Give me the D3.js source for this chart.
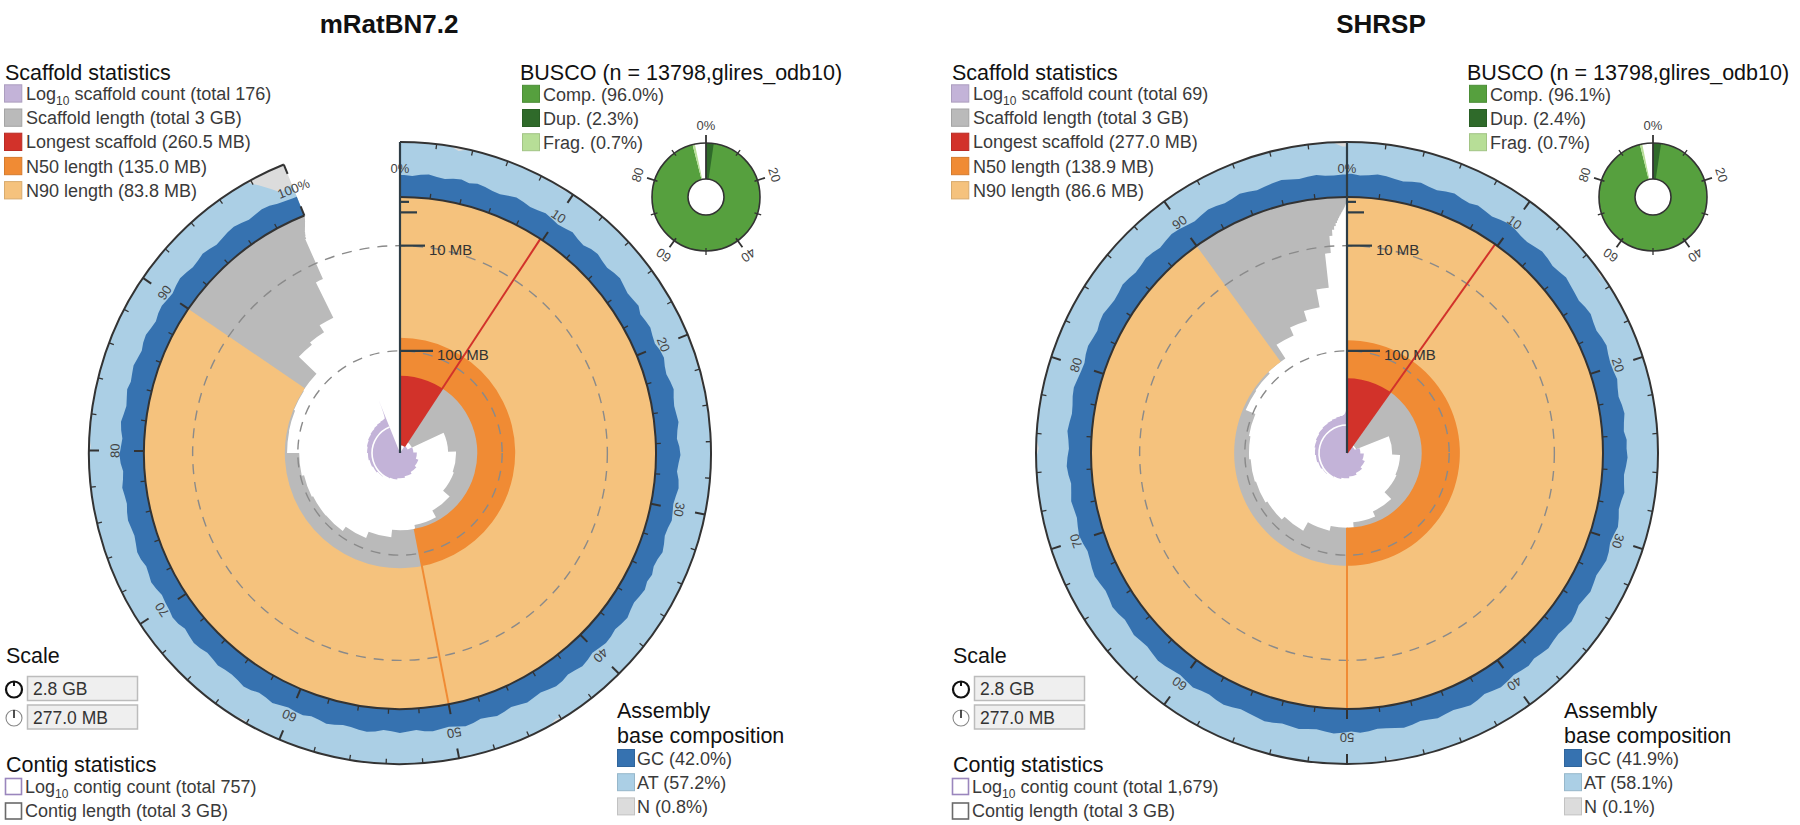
<!DOCTYPE html>
<html>
<head>
<meta charset="utf-8">
<script src="https://cdn.jsdelivr.net/npm/d3@7"></script>
<style>
  html,body{margin:0;padding:0;background:#fff;}
  svg{display:block;}
  text{font-family:"Liberation Sans", Arial, Helvetica, sans-serif;}
</style>
</head>
<body>
<svg id="chart" width="1800" height="825"></svg>
<script>
// ------------------------------------------------------------------ DATA
const assemblyNames = ["mRatBN7.2", "SHRSP"];

// scaffold lengths (MB), sorted longest first
const ratScaffoldLengths = [260.5, 249.1, 182.7, 169.0, 166.9, 152.5, 140.7, 135.0, 123.9, 114.2,
  107.2, 106.8, 104.9, 101.8, 86.5, 86.2, 84.7, 83.8, 57.3, 54.4, 46.7, 18.3];
const ratUnplacedLengths = [
  2.05,1.52,1.18,0.94,0.81,0.70,0.62,0.55,0.49,0.44,
  0.40,0.36,0.33,0.30,0.27,0.25,0.23,0.21,0.19,0.18,
  0.17,0.16,0.15,0.14,0.13,0.12,0.11,0.105,0.10,0.095,
  0.09,0.085,0.08,0.075,0.07,0.066,0.062,0.058,0.055,0.052,
  0.049,0.046,0.044,0.042,0.040,0.038,0.036,0.034,0.032,0.031,
  0.030,0.029,0.028,0.027,0.026,0.025,0.024,0.023,0.022,0.021,
  0.020,0.020,0.019,0.019,0.018,0.018,0.017,0.017,0.016,0.016,
  0.016,0.015,0.015,0.014,0.014,0.014,0.013,0.013,0.013,0.012,
  0.012,0.012,0.011,0.011,0.011,0.011,0.010,0.010,0.010,0.010,
  0.009,0.009,0.009,0.009,0.009,0.008,0.008,0.008,0.008,0.008,
  0.008,0.007,0.007,0.007,0.007,0.007,0.007,0.006,0.006,0.006,
  0.006,0.006,0.006,0.006,0.005,0.005,0.005,0.005,0.005,0.005,
  0.005,0.005,0.004,0.004,0.004,0.004,0.004,0.004,0.004,0.004,
  0.004,0.003,0.003,0.003,0.003,0.003,0.003,0.003,0.003,0.003,
  0.003,0.003,0.002,0.002,0.002,0.002,0.002,0.002,0.002,0.002,
  0.002,0.002,0.002,0.002];
const shrspScaffoldLengths = [277.0, 256.0, 188.0, 174.0, 172.0, 156.0, 147.0, 138.9, 131.5, 117.5,
  112.0, 109.0, 107.5, 105.5, 103.5, 90.0, 89.0, 86.6, 68.0, 59.0, 49.0, 34.0, 13.0];
const shrspUnplacedLengths = [6.2,4.4,3.5,2.8,2.3,1.9,1.6,1.4,1.2,1.05,0.95,0.85,0.75,0.68,0.62,0.56,
  0.5,0.46,0.42,0.38,0.34,0.31,0.28,0.26,0.24,0.22,0.2,0.18,0.17,0.16,0.15,0.14,0.13,0.12,0.11,0.1,
  0.09,0.085,0.08,0.075,0.07,0.065,0.06,0.055,0.05,0.045];

// GC % per 0.5% bin of each assembly
const ratGC = [
  40.1,38.6,41.9,43.5,40.8,39.2,42.7,44.1,41.0,43.8, 42.5,39.7,38.9,42.2,45.0,43.1,40.6,41.8,44.6,42.0,
  39.5,41.3,43.9,40.2,38.4,42.8,44.7,41.6,39.9,43.2, 45.3,42.4,40.0,41.7,44.2,39.1,41.5,43.6,40.7,38.8,
  42.9,44.8,41.2,39.6,43.0,45.4,42.1,40.3,41.9,44.0, 40.5,38.7,42.6,44.5,41.4,39.3,43.3,45.1,42.2,40.1,
  41.8,43.7,40.4,38.9,42.3,44.9,41.1,39.8,43.5,41.0, 44.3,42.0,39.4,41.6,45.2,43.0,40.2,42.8,44.0,41.3,
  39.0,42.4,44.6,41.9,40.0,43.4,45.0,42.3,39.7,41.5, 43.8,40.9,38.6,42.0,44.4,41.2,39.5,43.1,45.3,42.6,
  40.3,41.7,44.1,42.5,39.2,41.0,43.6,40.8,38.9,42.7, 45.1,43.2,40.6,39.8,42.9,44.7,41.4,39.6,43.0,41.8,
  39.9,42.2,44.8,41.5,40.1,43.7,45.5,42.1,40.4,41.2, 43.4,40.7,39.1,42.6,44.2,41.9,39.4,43.3,44.9,42.0,
  40.6,38.5,42.0,44.3,41.6,39.9,43.8,45.2,42.4,40.2, 41.9,44.0,42.3,39.6,41.1,43.5,40.5,39.0,42.8,44.6,
  42.1,40.0,43.2,45.0,41.8,39.3,41.4,43.9,40.8,42.5, 44.5,41.6,39.5,42.7,44.1,40.9,38.8,42.2,43.7,41.3,
  39.8,42.9,45.4,43.0,40.3,41.7,44.4,42.0,39.2,41.1, 43.6,45.0,42.5,40.0,41.9,44.2,42.8,39.5,38.0,37.0];
const shrspGC = [
  42.3,39.5,41.0,44.2,42.6,40.1,38.7,41.8,43.9,41.2, 39.6,42.7,45.1,42.0,40.4,43.5,41.3,39.0,42.1,44.8,
  43.0,40.2,38.9,41.6,44.4,42.8,40.0,41.9,45.0,42.5, 40.7,39.1,42.3,44.6,41.5,39.8,43.2,45.3,42.2,40.5,
  41.4,43.8,40.6,38.8,42.0,44.1,41.1,39.4,43.6,42.9, 44.7,42.4,39.7,41.2,43.9,40.8,39.2,42.6,45.2,41.8,
  40.1,43.3,44.9,42.1,39.5,41.7,44.0,41.0,38.6,42.4, 45.0,42.7,40.3,41.9,44.5,42.2,39.9,43.1,41.4,39.3,
  42.0,44.3,41.6,39.0,42.8,45.4,43.0,40.4,41.8,44.2, 41.3,39.6,42.5,44.8,42.0,40.0,38.9,42.2,43.7,41.1,
  43.4,45.1,42.6,39.8,41.5,44.0,41.9,40.2,42.9,45.0, 42.3,40.6,38.7,41.9,44.3,42.8,40.1,41.6,44.6,42.0,
  39.4,41.2,43.8,45.2,42.5,40.3,41.8,44.1,41.4,39.5, 42.7,44.9,41.7,39.9,42.4,45.1,43.2,40.6,38.9,41.9,
  44.2,42.0,39.6,41.3,43.6,41.0,39.2,42.5,44.7,42.9, 40.2,41.7,44.4,42.1,39.7,41.1,43.9,45.3,42.6,40.4,
  39.1,42.3,44.0,41.5,40.0,43.4,45.0,42.2,40.7,41.8, 44.6,42.4,39.8,41.2,43.7,41.9,39.4,42.0,44.5,43.1,
  40.5,38.8,41.6,44.2,42.7,40.1,41.9,44.8,42.3,39.7, 41.4,43.5,45.1,42.6,40.2,41.8,43.0,40.4,39.6,40.8];
// N % in bins that contain gaps: [bin, N%]
const ratNBins = [[6,6],[18,4],[45,3],[88,5],[124,4],[160,3],[196,15],[197,30],[198,45],[199,40]];
const shrspNBins = [[30,4],[95,3],[150,5],[199,8]];

const buscoLabels = ["Comp.", "Dup.", "Frag."];
const buscoTotal = 13798, buscoLineage = "glires_odb10";
const ratBusco = [96.0, 2.3, 0.7];
const shrspBusco = [96.1, 2.4, 0.7];

const baseLabels = ["GC", "AT", "N"];
const ratBase = [42.0, 57.2, 0.8];
const shrspBase = [41.9, 58.1, 0.1];

const contigCounts = [757, 1679];
const radialTicksMB = [100, 10, 1, 0.1];
const radialLabelledMB = [100, 10];

// ------------------------------------------------------------------ LAYOUT / STYLE
const CY = 453, R_IN = 256, R_OUT = 311, RING_W = R_OUT - R_IN;
const HALF = Math.PI / 2;
const COL = {
  count: "#c3b3d8", length: "#bababa", longest: "#d2322a", n50: "#f08b34", n90: "#f5c27d",
  gc: "#3672b0", at: "#abcfe5", n: "#dcdcdc",
  comp: "#56a03e", dup: "#2f6a2a", frag: "#b7de97",
  axis: "#2e3d46", text: "#3a3a3a", title: "#111"
};

const svg = d3.select("#chart");
svg.append("rect").attr("width", 1800).attr("height", 825).attr("fill", "#fff");

const ratAll = ratScaffoldLengths.concat(ratUnplacedLengths);
const shrspAll = shrspScaffoldLengths.concat(shrspUnplacedLengths);
const CIRC = d3.max([d3.sum(ratAll), d3.sum(shrspAll)]);
const RMAX = d3.max([d3.max(ratAll), d3.max(shrspAll)]);
const angleScale = d3.scaleLinear().domain([0, CIRC]).range([0, 2 * Math.PI]);
const radial = d3.scaleSqrt().domain([0, RMAX]).range([R_IN, 0]);
const countScale = d3.scaleLog().domain([1, 1000]).range([0, 84]);
const scaleLabels = [(CIRC / 1000).toFixed(1) + " GB", RMAX.toFixed(1) + " MB"];

const panels = [
  {ox: 0, cx: 400, titleX: 389, name: assemblyNames[0], lengths: ratAll, gc: ratGC, nBins: ratNBins,
   busco: ratBusco, base: ratBase, contigs: contigCounts[0]},
  {ox: 947, cx: 1347, titleX: 1381, name: assemblyNames[1], lengths: shrspAll, gc: shrspGC, nBins: shrspNBins,
   busco: shrspBusco, base: shrspBase, contigs: contigCounts[1]}
];

function nxx(lengths, total, f) {
  let c = 0;
  for (const L of lengths) { c += L; if (c >= total * f) return L; }
  return lengths[lengths.length - 1];
}
const pol = (r, a) => [r * Math.sin(a), -r * Math.cos(a)];
function arcLine(r, a0, a1) { const p = d3.path(); p.arc(0, 0, r, a0 - HALF, a1 - HALF, false); return p.toString(); }

function swatch(g, x, y, size, fill, outline) {
  g.append("rect").attr("x", x + 0.5).attr("y", y + 0.5).attr("width", size - 1).attr("height", size - 1)
    .attr("fill", outline ? "#fff" : fill)
    .attr("stroke", outline ? fill : d3.color(fill).darker(0.35))
    .attr("stroke-width", outline ? 1.6 : 1);
}
function logText(t, rest) {
  t.append("tspan").text("Log");
  t.append("tspan").attr("dy", 5).attr("font-size", "12px").text("10");
  t.append("tspan").attr("dy", -5).text(rest);
}

function drawPanel(P) {
  const lengths = P.lengths;
  const total = d3.sum(lengths);
  const longest = lengths[0];
  const n50 = nxx(lengths, total, 0.5), n90 = nxx(lengths, total, 0.9);
  const endA = angleScale(total);
  const ox = P.ox;

  // ---- title
  svg.append("text").attr("x", P.titleX).attr("y", 33).attr("text-anchor", "middle")
    .attr("font-size", "26px").attr("font-weight", "bold").attr("fill", COL.title).text(P.name);

  const g = svg.append("g").attr("transform", `translate(${P.cx},${CY})`);

  // segments
  let cum = 0;
  const segs = lengths.map((L, i) => { const s = {a0: angleScale(cum), a1: angleScale(cum + L), L, i}; cum += L; return s; });

  // gray scaffold length spiral
  const pg = d3.path();
  segs.forEach(s => pg.arc(0, 0, Math.max(0, radial(s.L)), s.a0 - HALF, s.a1 - HALF, false));
  pg.arc(0, 0, R_IN, endA - HALF, -HALF, true);
  pg.closePath();
  g.append("path").attr("d", pg.toString()).attr("fill", COL.length);

  // longest, N50, N90
  const arc = d3.arc();
  g.append("path").attr("d", arc({innerRadius: radial(longest), outerRadius: R_IN, startAngle: 0, endAngle: angleScale(longest)}))
    .attr("fill", COL.longest);
  g.append("path").attr("d", arc({innerRadius: radial(n50), outerRadius: R_IN, startAngle: 0, endAngle: angleScale(total * 0.5)}))
    .attr("fill", COL.n50);
  g.append("path").attr("d", arc({innerRadius: radial(n90), outerRadius: R_IN, startAngle: 0, endAngle: angleScale(total * 0.9)}))
    .attr("fill", COL.n90);

  // purple count spiral
  const pp = d3.path();
  segs.forEach(s => pp.arc(0, 0, countScale(s.i + 1), s.a0 - HALF, s.a1 - HALF, false));
  pp.lineTo(0, 0); pp.closePath();
  g.append("path").attr("d", pp.toString()).attr("fill", COL.count);
  [10, 100].forEach(c => {
    if (lengths.length >= c) {
      g.append("path").attr("d", arcLine(countScale(c), segs[c - 1].a0, endA))
        .attr("fill", "none").attr("stroke", "#fff").attr("stroke-width", 1.6);
    }
  });

  // dashed scale circles
  radialLabelledMB.forEach(v => {
    g.append("circle").attr("r", radial(v)).attr("fill", "none").attr("stroke", "#8a8a8a")
      .attr("stroke-width", 1.4).attr("stroke-dasharray", "10,8");
  });

  // marker lines (longest, N50) from their radius out to the plot edge
  [[longest, longest, COL.longest], [total * 0.5, n50, COL.n50]].forEach(([pos, len, c]) => {
    const a = angleScale(pos);
    const [x1, y1] = pol(radial(len), a), [x2, y2] = pol(R_IN, a);
    g.append("line").attr("x1", x1).attr("y1", y1).attr("x2", x2).attr("y2", y2)
      .attr("stroke", c).attr("stroke-width", 2);
  });

  // composition ring
  const nb = P.gc.length;
  const nArr = new Array(nb).fill(0);
  P.nBins.forEach(([i, v]) => { nArr[i] = v; });
  const pts = P.gc.map((v, i) => ({a: endA * (i + 0.5) / nb, g: v, n: nArr[i]}));
  const ptsFull = [Object.assign({}, pts[0], {a: 0})].concat(pts, [Object.assign({}, pts[nb - 1], {a: endA})]);
  g.append("path").attr("d", arc({innerRadius: R_IN, outerRadius: R_OUT, startAngle: 0, endAngle: endA})).attr("fill", COL.n);
  g.append("path").attr("d", d3.areaRadial().angle(d => d.a).innerRadius(R_IN)
      .outerRadius(d => R_IN + RING_W * (100 - d.n) / 100)(ptsFull)).attr("fill", COL.at);
  g.append("path").attr("d", d3.areaRadial().angle(d => d.a).innerRadius(R_IN)
      .outerRadius(d => R_IN + RING_W * d.g / 100)(ptsFull)).attr("fill", COL.gc);

  // ring outlines
  [R_IN, R_OUT].forEach(r => g.append("path").attr("d", arcLine(r, 0, endA))
    .attr("fill", "none").attr("stroke", "#333").attr("stroke-width", 2));

  // ring ticks
  d3.range(0, 101, 2).forEach(p => {
    const a = endA * p / 100, major = p % 10 === 0;
    const len = major ? 10 : 5;
    const [x1, y1] = pol(R_OUT, a), [x2, y2] = pol(R_OUT - len, a);
    const [x3, y3] = pol(R_IN, a), [x4, y4] = pol(R_IN + len, a);
    g.append("line").attr("x1", x1).attr("y1", y1).attr("x2", x2).attr("y2", y2)
      .attr("stroke", "#333").attr("stroke-width", major ? 2 : 1.3);
    g.append("line").attr("x1", x3).attr("y1", y3).attr("x2", x4).attr("y2", y4)
      .attr("stroke", "#333").attr("stroke-width", major ? 2 : 1.3);
  });
  const ringLabels = d3.range(0, 101, 10).filter(p => !(p === 100 && endA > 2 * Math.PI * 0.97));
  ringLabels.forEach(p => {
    const deg = (endA * p / 100) * 180 / Math.PI;
    g.append("text").attr("transform", `rotate(${deg}) translate(0,${-285})`)
      .attr("text-anchor", "middle").attr("dy", "0.35em").attr("font-size", "13px").attr("fill", "#444")
      .text(p === 0 || p === 100 ? p + "%" : p);
  });

  // radial axis
  g.append("line").attr("x1", 0).attr("y1", 0).attr("x2", 0).attr("y2", -R_OUT)
    .attr("stroke", COL.axis).attr("stroke-width", 2.2);
  radialTicksMB.forEach(v => {
    const y = -radial(v), len = 17 + 8 * Math.log10(v);
    g.append("line").attr("x1", 0).attr("y1", y).attr("x2", len).attr("y2", y)
      .attr("stroke", COL.axis).attr("stroke-width", 2.2);
    if (radialLabelledMB.includes(v)) {
      g.append("text").attr("x", len + 4).attr("y", y + 9.5).attr("font-size", "15px").attr("fill", "#333")
        .text(v + " MB");
    }
  });

  // ---- scaffold legend
  const lg = svg.append("g");
  lg.append("text").attr("x", 5 + ox).attr("y", 80).attr("font-size", "21.5px").attr("fill", COL.title).text("Scaffold statistics");
  const items = [
    [COL.count, null, " scaffold count (total " + lengths.length + ")"],
    [COL.length, "Scaffold length (total " + Math.round(total / 1000) + " GB)"],
    [COL.longest, "Longest scaffold (" + longest.toFixed(1) + " MB)"],
    [COL.n50, "N50 length (" + n50.toFixed(1) + " MB)"],
    [COL.n90, "N90 length (" + n90.toFixed(1) + " MB)"]
  ];
  items.forEach((it, i) => {
    swatch(lg, 4 + ox, 84.3 + 24.2 * i, 18.3, it[0], false);
    const t = lg.append("text").attr("x", 26 + ox).attr("y", 100 + 24.2 * i).attr("font-size", "18px").attr("fill", COL.text);
    if (i === 0) logText(t, it[2]); else t.text(it[1]);
  });

  // ---- BUSCO legend + donut
  lg.append("text").attr("x", 520 + ox).attr("y", 80).attr("font-size", "21.5px").attr("fill", COL.title)
    .text(`BUSCO (n = ${buscoTotal},${buscoLineage})`);
  [COL.comp, COL.dup, COL.frag].forEach((c, i) => {
    swatch(lg, 522 + ox, 84.8 + 24.2 * i, 18, c, false);
    lg.append("text").attr("x", 543 + ox).attr("y", 100.5 + 24.2 * i).attr("font-size", "18px").attr("fill", COL.text)
      .text(`${buscoLabels[i]} (${P.busco[i].toFixed(1)}%)`);
  });
  const dg = svg.append("g").attr("transform", `translate(${706 + ox},197)`);
  const da = d3.scaleLinear().domain([0, 100]).range([0, 2 * Math.PI]);
  const bArc = d3.arc().innerRadius(18).outerRadius(54);
  const [C, D, F] = P.busco;
  dg.append("path").attr("d", bArc({startAngle: 0, endAngle: da(C)})).attr("fill", COL.comp);
  dg.append("path").attr("d", bArc({startAngle: 0, endAngle: da(D)})).attr("fill", COL.dup);
  dg.append("path").attr("d", bArc({startAngle: da(C), endAngle: da(C + F)})).attr("fill", COL.frag);
  [18, 54].forEach(r => dg.append("circle").attr("r", r).attr("fill", "none").attr("stroke", "#333").attr("stroke-width", 1.6));
  d3.range(0, 100, 10).forEach(p => {
    const a = da(p), major = p % 20 === 0;
    const [x1, y1] = pol(p === 0 ? 18 : 51, a), [x2, y2] = pol(major ? 62 : 58, a);
    dg.append("line").attr("x1", x1).attr("y1", y1).attr("x2", x2).attr("y2", y2)
      .attr("stroke", "#333").attr("stroke-width", major ? 1.8 : 1.3);
  });
  d3.range(0, 100, 20).forEach(p => {
    dg.append("text").attr("transform", `rotate(${p * 3.6}) translate(0,-72)`).attr("text-anchor", "middle")
      .attr("dy", "0.35em").attr("font-size", "13px").attr("fill", "#444").text(p === 0 ? "0%" : p);
  });

  // ---- Scale
  lg.append("text").attr("x", 6 + ox).attr("y", 663).attr("font-size", "21.5px").attr("fill", COL.title).text("Scale");
  [689.5, 718].forEach((cy, i) => {
    const ig = lg.append("g").attr("transform", `translate(${14 + ox},${cy})`);
    if (i === 0) {
      ig.append("circle").attr("r", 8).attr("fill", "none").attr("stroke", "#111").attr("stroke-width", 2.2);
      ig.append("line").attr("x1", 0).attr("y1", -8).attr("x2", 0).attr("y2", -3.5).attr("stroke", "#111").attr("stroke-width", 2);
    } else {
      ig.append("circle").attr("r", 8).attr("fill", "none").attr("stroke", "#888").attr("stroke-width", 1.1);
      ig.append("line").attr("x1", 0).attr("y1", 0).attr("x2", 0).attr("y2", -8).attr("stroke", "#222").attr("stroke-width", 1.6);
    }
    lg.append("rect").attr("x", 27.5 + ox).attr("y", cy - 13).attr("width", 110).attr("height", 24)
      .attr("fill", "#efefef").attr("stroke", "#bcbcbc").attr("stroke-width", 1.5);
    lg.append("text").attr("x", 33 + ox).attr("y", cy + 5.5).attr("font-size", "17.5px").attr("fill", "#333").text(scaleLabels[i]);
  });

  // ---- Contig statistics
  lg.append("text").attr("x", 6 + ox).attr("y", 772).attr("font-size", "21.5px").attr("fill", COL.title).text("Contig statistics");
  swatch(lg, 5 + ox, 778, 17, "#9a86bd", true);
  logText(lg.append("text").attr("x", 25 + ox).attr("y", 793).attr("font-size", "18px").attr("fill", COL.text),
    " contig count (total " + d3.format(",")(P.contigs) + ")");
  swatch(lg, 5 + ox, 802.5, 17, "#6a6a6a", true);
  lg.append("text").attr("x", 25 + ox).attr("y", 817).attr("font-size", "18px").attr("fill", COL.text)
    .text("Contig length (total " + Math.round(total / 1000) + " GB)");

  // ---- Base composition
  lg.append("text").attr("x", 617 + ox).attr("y", 718).attr("font-size", "21.5px").attr("fill", COL.title).text("Assembly");
  lg.append("text").attr("x", 617 + ox).attr("y", 743).attr("font-size", "21.5px").attr("fill", COL.title).text("base composition");
  [COL.gc, COL.at, COL.n].forEach((c, i) => {
    swatch(lg, 617 + ox, 749 + 24.2 * i, 18, c, false);
    lg.append("text").attr("x", 637 + ox).attr("y", 765 + 24.2 * i).attr("font-size", "18px").attr("fill", COL.text)
      .text(`${baseLabels[i]} (${P.base[i].toFixed(1)}%)`);
  });
}

panels.forEach(drawPanel);
</script>
</body>
</html>
